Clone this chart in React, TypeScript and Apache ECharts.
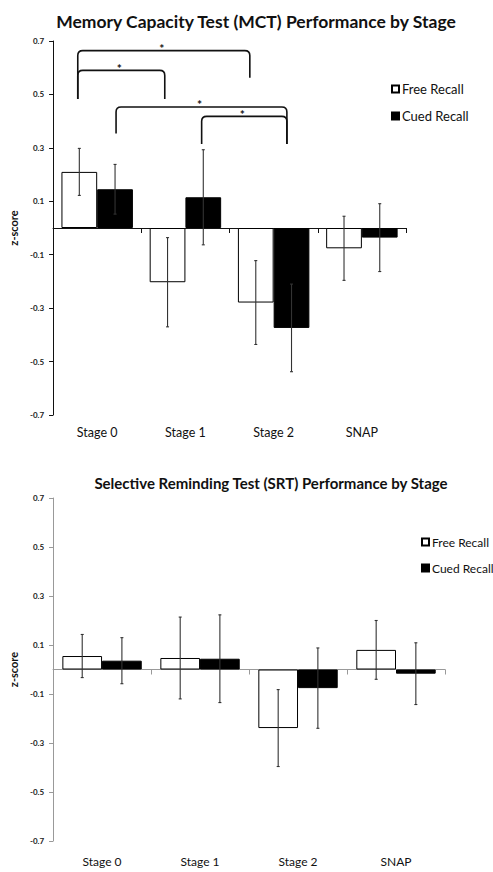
import React, { useEffect, useRef } from "react";
import * as echarts from "echarts";

const categories = ["Stage 0", "Stage 1", "Stage 2", "SNAP"];
const seriesNames = ["Free Recall", "Cued Recall"];

// MCT (top chart)
const mctFree = [0.21, -0.203, -0.279, -0.076];
const mctFreeErr = [0.088, 0.167, 0.157, 0.12];
const mctCued = [0.145, 0.115, -0.374, -0.036];
const mctCuedErr = [0.093, 0.178, 0.164, 0.127];
// significance brackets: [leftCat, leftBandOffset, rightCat, rightBandOffset, yTop, yLeftEnd, yRightEnd]
const mctBrackets = [
  [0, -0.22, 2, -0.27, 0.664, 0.483, 0.562],
  [0, -0.22, 1, -0.234, 0.59, 0.483, 0.483],
  [0, 0.214, 2, 0.15, 0.453, 0.354, 0.314],
  [1, 0.184, 2, 0.15, 0.418, 0.314, 0.314],
];

// SRT (bottom chart)
const srtFree = [0.055, 0.047, -0.239, 0.08];
const srtFreeErr = [0.088, 0.167, 0.157, 0.12];
const srtCued = [0.036, 0.044, -0.076, -0.017];
const srtCuedErr = [0.094, 0.179, 0.164, 0.126];

const yMin = -0.7;
const yMax = 0.7;
const yStep = 0.2;

const FONT = "Lato";

function errSeries(values: number[], errs: number[], frac: number, xi: number, yi: number, color: string) {
  return {
    type: "custom",
    name: "err",
    xAxisIndex: xi,
    yAxisIndex: yi,
    z: 5,
    silent: true,
    data: values.map((v, i) => [i, v, errs[i]]),
    renderItem: (params: any, api: any) => {
      const c = api.value(0);
      const v = api.value(1);
      const e = api.value(2);
      const bandW = api.size([1, 0])[0];
      const x = api.coord([c, v])[0] + frac * bandW;
      const yt = api.coord([c, v + e])[1];
      const yb = api.coord([c, v - e])[1];
      const cap = 1.5;
      const style = { stroke: color, lineWidth: 1.1 };
      return {
        type: "group",
        children: [
          { type: "line", shape: { x1: x, y1: yt, x2: x, y2: yb }, style },
          { type: "line", shape: { x1: x - cap, y1: yt, x2: x + cap, y2: yt }, style },
          { type: "line", shape: { x1: x - cap, y1: yb, x2: x + cap, y2: yb }, style },
        ],
      };
    },
  };
}

function bracketSeries(brackets: number[][], xi: number, yi: number) {
  return {
    type: "custom",
    name: "brackets",
    xAxisIndex: xi,
    yAxisIndex: yi,
    z: 6,
    silent: true,
    clip: false,
    data: brackets,
    renderItem: (params: any, api: any) => {
      const c1 = api.value(0);
      const f1 = api.value(1);
      const c2 = api.value(2);
      const f2 = api.value(3);
      const yTop = api.value(4);
      const y1 = api.value(5);
      const y2 = api.value(6);
      const bandW = api.size([1, 0])[0];
      const x1 = api.coord([c1, yTop])[0] + f1 * bandW;
      const x2 = api.coord([c2, yTop])[0] + f2 * bandW;
      const yt = api.coord([c1, yTop])[1];
      const yb1 = api.coord([c1, y1])[1];
      const yb2 = api.coord([c2, y2])[1];
      const r = 5;
      const d =
        `M${x1},${yb1} L${x1},${yt + r} Q${x1},${yt} ${x1 + r},${yt} ` +
        `L${x2 - r},${yt} Q${x2},${yt} ${x2},${yt + r} L${x2},${yb2}`;
      return {
        type: "group",
        children: [
          { type: "path", shape: { pathData: d }, style: { fill: "none", stroke: "#111", lineWidth: 1.6 } },
          {
            type: "text",
            x: (x1 + x2) / 2 - 2,
            y: yt - 2,
            style: { text: "*", fill: "#111", font: `bold 12px ${FONT}`, align: "center", verticalAlign: "middle" },
          },
        ],
      };
    },
  };
}

function yAxisCfg(gridIndex: number, color: string) {
  return {
    type: "value",
    gridIndex,
    min: yMin,
    max: yMax,
    interval: yStep,
    name: "z-score",
    nameLocation: "middle",
    nameGap: 28,
    nameRotate: 90,
    nameTextStyle: { fontFamily: FONT, fontWeight: "bold", fontSize: 11, color: "#111" },
    axisLine: { show: true, lineStyle: { color, width: 1 } },
    axisTick: { show: true, length: 4, lineStyle: { color } },
    splitLine: { show: false },
    axisLabel: {
      fontFamily: FONT,
      fontWeight: "bold",
      fontSize: 8,
      color: "#222",
      margin: 9,
      formatter: (v: number) => (Math.abs(v) < 1e-9 ? "0" : v.toFixed(1)),
    },
  };
}

function xAxesCfg(gridIndex: number, color: string, fontSize: number, margin: number) {
  return [
    {
      type: "category",
      gridIndex,
      data: categories,
      axisLine: { show: true, onZero: true, lineStyle: { color, width: 1 } },
      axisTick: { show: true, length: 5, lineStyle: { color } },
      axisLabel: { show: false },
      splitLine: { show: false },
    },
    {
      type: "category",
      gridIndex,
      position: "bottom",
      data: categories,
      axisLine: { show: false, onZero: false },
      axisTick: { show: false },
      axisLabel: { fontFamily: FONT, fontSize, color: "#111", margin },
      splitLine: { show: false },
    },
  ];
}

function barSeries(name: string, values: number[], xi: number, yi: number, fill: string) {
  return {
    type: "bar",
    name,
    xAxisIndex: xi,
    yAxisIndex: yi,
    data: values,
    barGap: "0%",
    barCategoryGap: "19%",
    itemStyle: { color: fill, borderColor: "#000", borderWidth: 1 },
  };
}

export default function App() {
  const ref = useRef<HTMLDivElement>(null);
  useEffect(() => {
    if (!ref.current) return;
    const chart = echarts.init(ref.current, null, { renderer: "svg" });
    chart.setOption({
      animation: false,
      backgroundColor: "#fff",
      title: [
        {
          text: "Memory Capacity Test (MCT) Performance by Stage",
          left: 251,
          textAlign: "center",
          top: 7,
          textStyle: { fontFamily: FONT, fontWeight: "bold", fontSize: 17.5, color: "#111" },
        },
        {
          text: "Selective Reminding Test (SRT) Performance by Stage",
          left: 266,
          textAlign: "center",
          top: 470,
          textStyle: { fontFamily: FONT, fontWeight: "bold", fontSize: 15, color: "#111" },
        },
      ],
      legend: [
        {
          data: seriesNames,
          orient: "vertical",
          left: 391,
          top: 82,
          padding: 0,
          itemWidth: 7,
          itemHeight: 7,
          itemGap: 13,
          icon: "rect",
          textStyle: { fontFamily: FONT, fontSize: 13, color: "#111", lineHeight: 14, padding: [0, 0, 0, -2] },
          selectedMode: false,
        },
        {
          data: seriesNames,
          orient: "vertical",
          left: 421,
          top: 535,
          padding: 0,
          itemWidth: 7,
          itemHeight: 7,
          itemGap: 12,
          icon: "rect",
          textStyle: { fontFamily: FONT, fontSize: 12, color: "#111", lineHeight: 14, padding: [0, 0, 0, -2] },
          selectedMode: false,
        },
      ],
      grid: [
        { left: 49, right: 87, top: 41, height: 374 },
        { left: 49, right: 48, top: 498, height: 343 },
      ],
      xAxis: [...xAxesCfg(0, "#111", 12.5, 11), ...xAxesCfg(1, "#999", 12, 14)],
      yAxis: [yAxisCfg(0, "#111"), yAxisCfg(1, "#999")],
      series: [
        barSeries("Free Recall", mctFree, 0, 0, "#fff"),
        barSeries("Cued Recall", mctCued, 0, 0, "#000"),
        errSeries(mctFree, mctFreeErr, -0.2025, 0, 0, "#333"),
        errSeries(mctCued, mctCuedErr, 0.2025, 0, 0, "#333"),
        bracketSeries(mctBrackets, 0, 0),
        barSeries("Free Recall", srtFree, 2, 1, "#fff"),
        barSeries("Cued Recall", srtCued, 2, 1, "#000"),
        errSeries(srtFree, srtFreeErr, -0.2025, 2, 1, "#333"),
        errSeries(srtCued, srtCuedErr, 0.2025, 2, 1, "#333"),
      ],
    });
    return () => chart.dispose();
  }, []);
  return (
    <div
      ref={ref}
      style={{ position: "fixed", left: 0, top: 0, width: 493, height: 872, background: "#fff" }}
    />
  );
}
